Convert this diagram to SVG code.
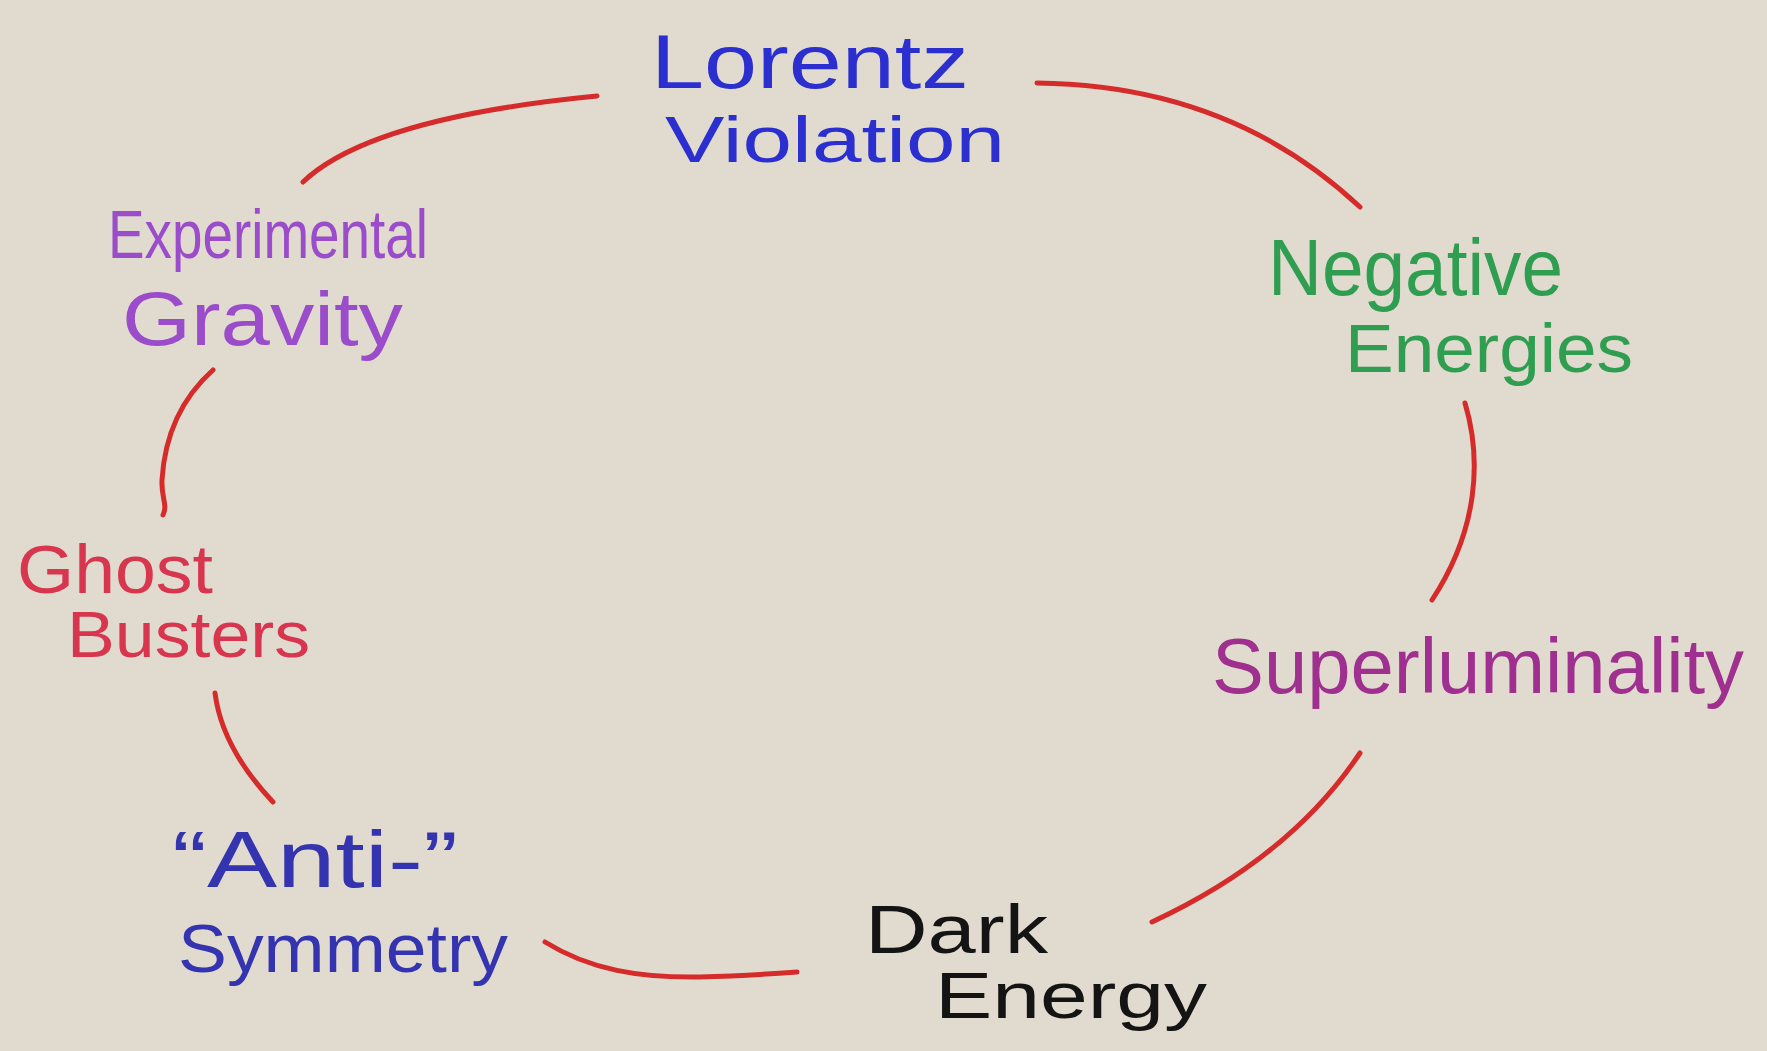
<svg xmlns="http://www.w3.org/2000/svg" width="1767" height="1051" viewBox="0 0 1767 1051">
<style>
text{font-family:"Liberation Sans","Open Sans",sans-serif;font-weight:400}
.conn{fill:none;stroke:#d62b2b;stroke-width:5;stroke-linecap:round}
.lv{fill:#2b2fcf}
.ne{fill:#2f9e50}
.sl{fill:#a0308f}
.de{fill:#141414}
.as{fill:#3433b0}
.gb{fill:#d8354f}
.eg{fill:#9a4ccb}
</style>
<rect width="1767" height="1051" fill="#e1dbcf"/>
<g id="connectors">
<path class="conn" d="M303,182 Q370,118 597,96"/>
<path class="conn" d="M1037,83 Q1230,85 1360,207"/>
<path class="conn" d="M1465,403 C1482,460 1478,530 1432,600"/>
<path class="conn" d="M1360,753 Q1290,858 1152,922"/>
<path class="conn" d="M545,942 C590,970 640,978 700,977 C740,976 770,974 797,972"/>
<path class="conn" d="M215,693 Q222,748 273,802"/>
<path class="conn" d="M213,370 C185,395 165,430 162,480 C161,497 168,505 163,515"/>
</g>
<g id="lorentz-violation" class="lv">
<text x="651" y="88" font-size="76" textLength="318" lengthAdjust="spacingAndGlyphs">Lorentz</text>
<text x="665" y="162" font-size="64" textLength="340" lengthAdjust="spacingAndGlyphs">Violation</text>
</g>
<g id="negative-energies" class="ne">
<text x="1268" y="295" font-size="80" textLength="295" lengthAdjust="spacingAndGlyphs">Negative</text>
<text x="1345" y="372" font-size="68" textLength="288" lengthAdjust="spacingAndGlyphs">Energies</text>
</g>
<g id="superluminality" class="sl">
<text x="1212" y="693" font-size="78" textLength="532" lengthAdjust="spacingAndGlyphs">Superluminality</text>
</g>
<g id="dark-energy" class="de">
<text x="865" y="953" font-size="68" textLength="183" lengthAdjust="spacingAndGlyphs">Dark</text>
<text x="935" y="1018" font-size="64" textLength="272" lengthAdjust="spacingAndGlyphs">Energy</text>
</g>
<g id="anti-symmetry" class="as">
<text x="172" y="887" font-size="80" textLength="286" lengthAdjust="spacingAndGlyphs">“Anti-”</text>
<text x="178" y="972" font-size="68" textLength="330" lengthAdjust="spacingAndGlyphs">Symmetry</text>
</g>
<g id="ghost-busters" class="gb">
<text x="17" y="593" font-size="68" textLength="196" lengthAdjust="spacingAndGlyphs">Ghost</text>
<text x="67" y="657" font-size="64" textLength="243" lengthAdjust="spacingAndGlyphs">Busters</text>
</g>
<g id="experimental-gravity" class="eg">
<text x="108" y="258" font-size="68" textLength="320" lengthAdjust="spacingAndGlyphs">Experimental</text>
<text x="122" y="345" font-size="76" textLength="281" lengthAdjust="spacingAndGlyphs">Gravity</text>
</g>
</svg>
